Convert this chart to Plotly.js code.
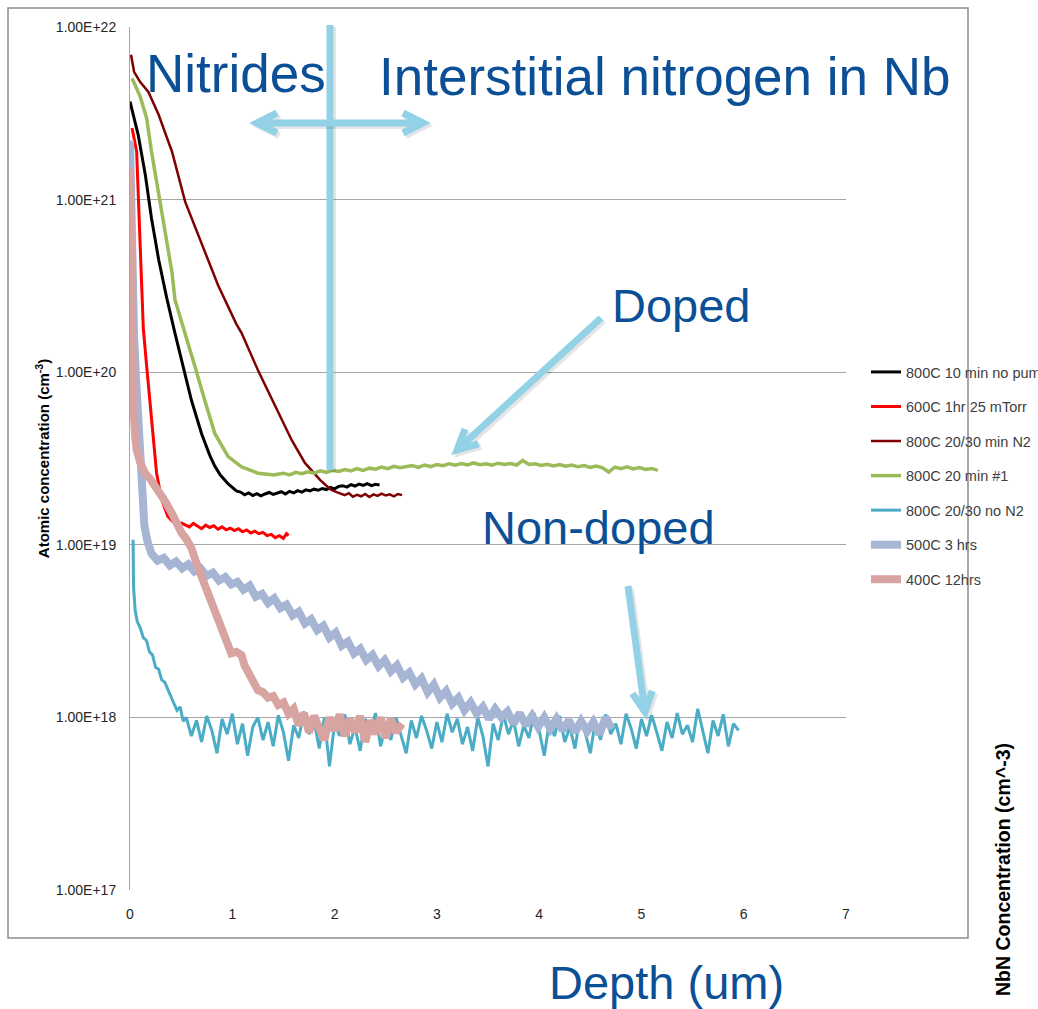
<!DOCTYPE html>
<html><head><meta charset="utf-8">
<script src="https://cdn.plot.ly/plotly-3.0.1.min.js"></script>
<style>html,body{margin:0;padding:0;background:#fff}#chart{width:1038px;height:1009px}</style>
</head><body><div id="chart"></div>
<script>
// ---------- series names ----------
const seriesNames = ['800C 10 min no pump', '600C 1hr 25 mTorr', '800C 20/30 min N2', '800C 20 min #1', '800C 20/30 no N2', '500C 3 hrs', '400C 12hrs'];
const seriesColors = ['#000000', '#ff0000', '#7f0000', '#9bbb59', '#4bacc6', '#a6b5d3', '#d8a4a2'];

// ---------- 800C 10 min no pump ----------
const depth800_10 = [0, 0.04, 0.08, 0.15, 0.21, 0.28, 0.36, 0.44, 0.52, 0.60,
  0.70, 0.78, 0.83, 0.88, 0.92, 0.96, 1.00, 1.04, 1.08, 1.12,
  1.16, 1.20, 1.24, 1.28, 1.32, 1.36, 1.40, 1.44, 1.48, 1.52,
  1.56, 1.60, 1.64, 1.68, 1.72, 1.76, 1.80, 1.84, 1.88, 1.92,
  1.96, 2.00, 2.04, 2.08, 2.12, 2.16, 2.20, 2.24, 2.28, 2.32,
  2.36, 2.40, 2.44];
const conc800_10 = [3.7e21, 2.9e21, 2.37e21, 1.39e21, 7.8e20, 4.5e20, 2.68e20, 1.68e20, 1.08e20, 6.9e19,
  4.4e19, 3.3e19, 2.85e19, 2.55e19, 2.4e19, 2.25e19, 2.15e19, 2.05e19, 2.02e19, 1.95e19,
  2.0e19, 1.93e19, 1.98e19, 1.92e19, 1.97e19, 2.01e19, 1.96e19, 1.99e19, 2.03e19, 1.97e19,
  2.04e19, 2.0e19, 2.06e19, 2.02e19, 2.08e19, 2.05e19, 2.1e19, 2.07e19, 2.12e19, 2.09e19,
  2.15e19, 2.11e19, 2.18e19, 2.2e19, 2.16e19, 2.23e19, 2.19e19, 2.25e19, 2.21e19, 2.26e19,
  2.2e19, 2.24e19, 2.22e19];

// ---------- 600C 1hr 25 mTorr ----------
const depth600 = [0.02, 0.065, 0.08, 0.10, 0.115, 0.13, 0.163, 0.195, 0.228, 0.26,
  0.31, 0.37, 0.42, 0.46, 0.50, 0.54, 0.58, 0.62, 0.66, 0.70,
  0.74, 0.78, 0.82, 0.86, 0.90, 0.94, 0.98, 1.02, 1.06, 1.10,
  1.14, 1.18, 1.22, 1.26, 1.30, 1.34, 1.38, 1.42, 1.46, 1.50,
  1.53, 1.55];
const conc600 = [2.6e21, 1.9e21, 1.1e21, 5.7e20, 2.9e20, 1.8e20, 1.08e20, 6.9e19, 4.4e19, 2.6e19,
  1.82e19, 1.46e19, 1.36e19, 1.31e19, 1.34e19, 1.3e19, 1.27e19, 1.33e19, 1.28e19, 1.24e19,
  1.3e19, 1.26e19, 1.29e19, 1.23e19, 1.27e19, 1.22e19, 1.25e19, 1.21e19, 1.24e19, 1.19e19,
  1.22e19, 1.17e19, 1.2e19, 1.16e19, 1.18e19, 1.13e19, 1.15e19, 1.1e19, 1.13e19, 1.09e19,
  1.16e19, 1.13e19];

// ---------- 800C 20/30 min N2 ----------
const depth800_N2 = [0.01, 0.04, 0.10, 0.18, 0.28, 0.41, 0.54, 0.70, 0.86, 1.04,
  1.09, 1.25, 1.42, 1.58, 1.71, 1.80, 1.86, 1.92, 1.97, 2.02,
  2.06, 2.10, 2.14, 2.18, 2.22, 2.26, 2.30, 2.34, 2.38, 2.42,
  2.46, 2.50, 2.54, 2.58, 2.62, 2.66];
const conc800_N2 = [6.9e21, 5.5e21, 4.8e21, 4.2e21, 3.1e21, 1.9e21, 9.7e20, 5.5e20, 3.2e20, 1.9e20,
  1.69e20, 1.03e20, 6.3e19, 4.05e19, 2.98e19, 2.6e19, 2.37e19, 2.2e19, 2.08e19, 2.02e19,
  1.97e19, 1.94e19, 1.99e19, 1.9e19, 1.95e19, 1.91e19, 1.97e19, 1.89e19, 1.96e19, 1.92e19,
  1.98e19, 1.93e19, 1.96e19, 1.91e19, 1.97e19, 1.94e19];

// ---------- 800C 20 min #1 ----------
const depth800_20 = [0.02, 0.10, 0.163, 0.21, 0.277, 0.34, 0.41, 0.44, 0.54, 0.635,
  0.73, 0.83, 0.96, 1.09, 1.25, 1.41,
  1.44, 1.50, 1.56, 1.62, 1.68, 1.74, 1.80, 1.86, 1.92, 1.98, 2.04,
  2.10, 2.16, 2.22, 2.28, 2.34, 2.40, 2.46, 2.52, 2.58, 2.64, 2.70,
  2.76, 2.82, 2.88, 2.94, 3.00, 3.06, 3.12, 3.18, 3.24, 3.30, 3.36,
  3.42, 3.48, 3.54, 3.60, 3.66, 3.72, 3.78, 3.84, 3.90, 3.96, 4.02,
  4.08, 4.14, 4.20, 4.26, 4.32, 4.38, 4.44, 4.50, 4.56, 4.62, 4.68,
  4.74, 4.80, 4.86, 4.92, 4.98, 5.04, 5.10, 5.16];
const conc800_20 = [5.05e21, 3.95e21, 2.96e21, 1.9e21, 1.11e21, 6.5e20, 3.8e20, 2.62e20, 1.68e20, 1.08e20,
  6.9e19, 4.4e19, 3.24e19, 2.83e19, 2.6e19, 2.54e19,
  2.56e19, 2.6e19, 2.54e19, 2.63e19, 2.58e19, 2.65e19, 2.6e19, 2.68e19, 2.63e19, 2.7e19, 2.66e19,
  2.73e19, 2.68e19, 2.76e19, 2.7e19, 2.78e19, 2.74e19, 2.82e19, 2.76e19, 2.85e19, 2.8e19, 2.83e19,
  2.88e19, 2.81e19, 2.9e19, 2.84e19, 2.92e19, 2.87e19, 2.95e19, 2.89e19, 2.96e19, 2.9e19, 2.98e19,
  2.91e19, 2.95e19, 2.89e19, 2.97e19, 2.92e19, 2.96e19, 2.9e19, 3.08e19, 2.92e19, 2.95e19, 2.88e19,
  2.93e19, 2.86e19, 2.92e19, 2.85e19, 2.9e19, 2.83e19, 2.88e19, 2.81e19, 2.86e19, 2.79e19, 2.64e19,
  2.82e19, 2.76e19, 2.83e19, 2.75e19, 2.8e19, 2.73e19, 2.77e19, 2.7e19];

// ---------- 800C 20/30 no N2 ----------
const depth800_noN2 = [0.03, 0.035, 0.05, 0.07, 0.10, 0.13, 0.16, 0.19, 0.22, 0.25,
  0.28, 0.31, 0.34, 0.37, 0.40, 0.43, 0.46, 0.49, 0.52,
  0.55, 0.60, 0.65, 0.70, 0.75, 0.80, 0.85, 0.90, 0.95, 1.00,
  1.05, 1.10, 1.15, 1.20, 1.25, 1.30, 1.35, 1.40, 1.45, 1.50,
  1.55, 1.60, 1.65, 1.70, 1.75, 1.80, 1.85, 1.90, 1.95, 2.00,
  2.05, 2.10, 2.15, 2.20, 2.25, 2.30, 2.35, 2.40, 2.45, 2.50,
  2.55, 2.60, 2.65, 2.70, 2.75, 2.80, 2.85, 2.90, 2.95, 3.00,
  3.05, 3.10, 3.15, 3.20, 3.25, 3.30, 3.35, 3.40, 3.45, 3.50,
  3.55, 3.60, 3.65, 3.70, 3.75, 3.80, 3.85, 3.90, 3.95, 4.00,
  4.05, 4.10, 4.15, 4.20, 4.25, 4.30, 4.35, 4.40, 4.45, 4.50,
  4.55, 4.60, 4.65, 4.70, 4.75, 4.80, 4.85, 4.90, 4.95, 5.00,
  5.05, 5.10, 5.15, 5.20, 5.25, 5.30, 5.35, 5.40, 5.45, 5.50,
  5.55, 5.60, 5.65, 5.70, 5.75, 5.80, 5.85, 5.90, 5.95];
const conc800_noN2 = [1.07e19, 5.7e18, 4.2e18, 3.6e18, 3.3e18, 2.9e18, 2.8e18, 2.4e18, 2.3e18, 1.95e18,
  1.9e18, 1.65e18, 1.6e18, 1.45e18, 1.3e18, 1.2e18, 1.1e18, 1.15e18, 9.5e17,
  1.0e18, 7.8e17, 9.6e17, 7.2e17, 1.02e18, 8.4e17, 6.2e17, 9.8e17, 8.0e17, 1.05e18,
  7.0e17, 9.2e17, 6.0e17, 8.8e17, 1.0e18, 7.4e17, 9.4e17, 6.8e17, 1.03e18, 8.2e17,
  5.6e17, 9.0e17, 7.6e17, 1.08e18, 8.0e17, 9.6e17, 6.6e17, 1.0e18, 5.2e17, 9.2e17,
  7.8e17, 1.04e18, 7.0e17, 8.8e17, 6.4e17, 9.8e17, 8.2e17, 1.06e18, 6.8e17, 9.0e17,
  7.4e17, 1.0e18, 8.0e17, 6.2e17, 9.6e17, 7.6e17, 1.02e18, 8.4e17, 6.6e17, 9.4e17,
  7.2e17, 1.05e18, 8.2e17, 9.8e17, 7.0e17, 8.8e17, 6.4e17, 1.0e18, 7.8e17, 5.2e17,
  9.2e17, 7.4e17, 1.04e18, 8.0e17, 9.6e17, 6.8e17, 9.0e17, 7.6e17, 1.06e18, 8.4e17,
  6.0e17, 9.4e17, 7.8e17, 1.02e18, 7.2e17, 8.8e17, 6.6e17, 1.0e18, 8.2e17, 6.2e17,
  9.6e17, 7.4e17, 1.04e18, 8.0e17, 9.2e17, 7.0e17, 1.05e18, 8.6e17, 6.6e17, 9.8e17,
  7.8e17, 1.03e18, 8.2e17, 6.4e17, 9.4e17, 7.6e17, 1.06e18, 8.0e17, 9.0e17, 7.2e17,
  1.12e18, 8.4e17, 6.2e17, 9.6e17, 7.8e17, 1.04e18, 6.8e17, 9.2e17, 8.4e17];

// ---------- 500C 3 hrs ----------
const depth500 = [0.0, 0.01, 0.02, 0.04, 0.06, 0.08, 0.10, 0.12, 0.14, 0.17,
  0.21, 0.27, 0.33, 0.39, 0.45, 0.51, 0.57, 0.63, 0.69, 0.75,
  0.81, 0.87, 0.93, 0.99, 1.05, 1.11, 1.17, 1.23, 1.29, 1.35,
  1.41, 1.47, 1.53, 1.59, 1.65, 1.71, 1.77, 1.83, 1.89, 1.95,
  2.01, 2.07, 2.13, 2.19, 2.25, 2.31, 2.37, 2.43, 2.49, 2.55,
  2.61, 2.67, 2.73, 2.79, 2.85, 2.91, 2.97, 3.03, 3.09, 3.15,
  3.21, 3.27, 3.33, 3.39, 3.45, 3.51, 3.57, 3.63, 3.69, 3.75,
  3.81, 3.87, 3.93, 3.99, 4.05, 4.11, 4.17, 4.23, 4.29, 4.35,
  4.41, 4.47, 4.53, 4.59, 4.65, 4.71];
const conc500 = [2.2e21, 1.0e21, 3.0e20, 1.6e20, 9.0e19, 6.0e19, 3.0e19, 1.8e19, 1.3e19, 1.05e19,
  8.9e18, 8.1e18, 8.4e18, 7.6e18, 8.0e18, 7.3e18, 7.7e18, 7.0e18, 7.3e18, 6.6e18,
  6.9e18, 6.2e18, 6.5e18, 5.9e18, 6.1e18, 5.5e18, 5.8e18, 5.0e18, 5.2e18, 4.6e18,
  4.9e18, 4.3e18, 4.5e18, 3.9e18, 4.1e18, 3.5e18, 3.7e18, 3.2e18, 3.4e18, 2.9e18,
  3.1e18, 2.6e18, 2.75e18, 2.35e18, 2.5e18, 2.15e18, 2.3e18, 1.98e18, 2.15e18, 1.85e18,
  2.0e18, 1.7e18, 1.82e18, 1.55e18, 1.68e18, 1.4e18, 1.55e18, 1.3e18, 1.42e18, 1.2e18,
  1.3e18, 1.1e18, 1.22e18, 1.05e18, 1.15e18, 9.8e17, 1.12e18, 1.0e18, 1.08e18, 9.2e17,
  1.06e18, 9.0e17, 1.02e18, 8.8e17, 1.0e18, 8.6e17, 9.8e17, 8.4e17, 9.6e17, 8.2e17,
  9.5e17, 8.3e17, 9.4e17, 8.0e17, 1.0e18, 8.6e17];

// ---------- 400C 12hrs ----------
const depth400 = [0.0, 0.01, 0.02, 0.03, 0.05, 0.065, 0.10, 0.147, 0.20, 0.277,
  0.34, 0.41, 0.44, 0.505, 0.55, 0.60, 0.65, 0.70, 0.75, 0.80,
  0.85, 0.90, 0.95, 0.99, 1.04, 1.09, 1.12, 1.16, 1.21, 1.25,
  1.30, 1.35, 1.40, 1.45, 1.50, 1.55, 1.60, 1.65, 1.70, 1.75,
  1.80, 1.85, 1.90, 1.95, 2.00, 2.05, 2.10, 2.15, 2.20, 2.25,
  2.30, 2.35, 2.40, 2.45, 2.50, 2.55, 2.60, 2.66];
const conc400 = [1.52e21, 4.0e20, 1.4e20, 6.9e19, 4.3e19, 3.54e19, 3.0e19, 2.6e19, 2.4e19, 2.08e19,
  1.8e19, 1.52e19, 1.39e19, 1.17e19, 1.08e19, 9.6e18, 7.8e18, 6.5e18, 5.6e18, 4.6e18,
  4.0e18, 3.36e18, 2.8e18, 2.35e18, 2.4e18, 2.3e18, 2.0e18, 1.8e18, 1.6e18, 1.44e18,
  1.4e18, 1.3e18, 1.33e18, 1.18e18, 1.22e18, 1.05e18, 1.12e18, 9.0e17, 1.06e18, 8.2e17,
  1.02e18, 8.6e17, 7.4e17, 1.0e18, 8.4e17, 1.04e18, 7.8e17, 9.8e17, 8.2e17, 1.02e18,
  7.2e17, 9.6e17, 8.0e17, 1.0e18, 7.6e17, 9.8e17, 8.2e17, 9.2e17];

// ---------- axes ticks ----------
const yTickVals = [1e17, 1e18, 1e19, 1e20, 1e21, 1e22];
const yTickText = ['1.00E+17', '1.00E+18', '1.00E+19', '1.00E+20', '1.00E+21', '1.00E+22'];
const xTickVals = [0, 1, 2, 3, 4, 5, 6, 7];
const xTickText = ['0', '1', '2', '3', '4', '5', '6', '7'];

const depthSets = [depth800_10, depth600, depth800_N2, depth800_20, depth800_noN2, depth500, depth400];
const concSets = [conc800_10, conc600, conc800_N2, conc800_20, conc800_noN2, conc500, conc400];
const lineWidths = [3, 3, 2.5, 3.5, 3, 8, 8];

const traces = seriesNames.map((name, i) => ({
  type: 'scatter', mode: 'lines', name: name,
  x: depthSets[i], y: concSets[i],
  line: {color: seriesColors[i], width: lineWidths[i]},
  legendgroup: 'g' + i,
  hoverinfo: 'x+y+name'
}));

// ---------- decoration helpers (pixel -> paper) ----------
const L = 130, T = 27, W = 716, H = 863;
function px(x) { return (x - L) / W; }
function py(y) { return (T + H - y) / H; }
function pathOf(pts) {
  return pts.map((p, k) => (p[2] ? 'M' : (k === 0 ? 'M' : 'L')) + px(p[0]).toFixed(5) + ',' + py(p[1]).toFixed(5)).join(' ');
}
function arrowPts(sx, sy, tx, ty, both) {
  const dx = tx - sx, dy = ty - sy, len = Math.hypot(dx, dy);
  const ux = dx / len, uy = dy / len, back = 20, half = 10;
  const head = (x, y, ux, uy) => [[x - ux * back - uy * half, y - uy * back + ux * half, true], [x, y], [x - ux * back + uy * half, y - uy * back - ux * half]];
  let pts = [[sx, sy, true], [tx, ty]].concat(head(tx, ty, ux, uy));
  if (both) pts = pts.concat(head(sx, sy, -ux, -uy));
  return pts;
}
const arrowColor = '#93d1e6';
const shadowColor = 'rgba(0,0,0,0.10)';
function arrowShapes(sx, sy, tx, ty, both) {
  const pts = arrowPts(sx, sy, tx, ty, both);
  const sh = pts.map(p => [p[0] + 2.5, p[1] + 2.5, p[2]]);
  return [
    {type: 'path', xref: 'paper', yref: 'paper', path: pathOf(sh), line: {color: shadowColor, width: 7}},
    {type: 'path', xref: 'paper', yref: 'paper', path: pathOf(pts), line: {color: arrowColor, width: 7}}
  ];
}

const shapes = [
  {type: 'rect', xref: 'paper', yref: 'paper', x0: px(8), x1: px(968), y0: py(938), y1: py(8),
   line: {color: '#8c8c8c', width: 1.5}, layer: 'below'},
  {type: 'line', xref: 'paper', yref: 'paper', x0: px(333), x1: px(333), y0: py(27), y1: py(472),
   line: {color: shadowColor, width: 6}},
  {type: 'line', xref: 'paper', yref: 'paper', x0: px(330), x1: px(330), y0: py(25), y1: py(470),
   line: {color: arrowColor, width: 7}}
].concat(arrowShapes(257, 123, 423, 123, true))
 .concat(arrowShapes(601, 318, 457, 450, false))
 .concat(arrowShapes(628, 586, 645, 712, false));

const blue = '#0b4f96';
const annFont = 'Liberation Sans, Arial, sans-serif';
const annotations = [
  {text: 'Nitrides', x: px(236), y: py(73.6), font: {size: 53, color: blue, family: annFont}},
  {text: 'Interstitial nitrogen in Nb', x: px(665), y: py(76.6), font: {size: 53, color: blue, family: annFont}},
  {text: 'Doped', x: px(681), y: py(305.4), font: {size: 47, color: blue, family: annFont}},
  {text: 'Non-doped', x: px(598), y: py(527), font: {size: 47, color: blue, family: annFont}},
  {text: 'Depth (um)', x: px(666), y: py(982.7), font: {size: 47, color: blue, family: annFont}},
  {text: 'NbN Concentration (cm^-3)', x: px(1003), y: py(870), textangle: -90,
   font: {size: 19.5, color: '#000', family: annFont, weight: 'bold'}}
].map(a => Object.assign({xref: 'paper', yref: 'paper', showarrow: false, xanchor: 'center', yanchor: 'middle'}, a));

const layout = {
  width: 1038, height: 1009,
  margin: {l: L, r: 1038 - L - W, t: T, b: 1009 - T - H, autoexpand: false},
  paper_bgcolor: '#ffffff', plot_bgcolor: '#ffffff',
  font: {family: 'Liberation Sans, Arial, sans-serif', color: '#262626', size: 14},
  showlegend: true,
  legend: {xref: 'paper', yref: 'paper', x: px(866), y: py(356), xanchor: 'left', yanchor: 'top',
    traceorder: 'grouped', tracegroupgap: 12.7, bgcolor: 'rgba(0,0,0,0)', borderwidth: 0,
    font: {size: 14.5, color: '#404040', family: 'Liberation Sans, Arial, sans-serif'}},
  xaxis: {range: [0, 7], tickvals: xTickVals, ticktext: xTickText, showgrid: false, zeroline: false,
    showline: false, ticks: '', ticklabelstandoff: 14,
    tickfont: {size: 14, color: '#262626', family: 'Liberation Sans Narrow, Liberation Sans, Arial'}},
  yaxis: {type: 'log', range: [17, 22], tickvals: yTickVals, ticktext: yTickText, showgrid: true,
    gridcolor: '#a6a6a6', gridwidth: 1, zeroline: false, showline: true, linecolor: '#a6a6a6', linewidth: 1,
    ticks: '', ticklabelstandoff: 10, tickfont: {size: 14, color: '#262626'},
    title: {text: 'Atomic concentration (cm<sup>-3</sup>)', standoff: 2,
      font: {size: 15, color: '#000', weight: 'bold', family: 'Liberation Sans, Arial, sans-serif'}}},
  shapes: shapes,
  annotations: annotations
};

Plotly.newPlot('chart', traces, layout, {displayModeBar: false, responsive: false});
</script>
</body></html>
